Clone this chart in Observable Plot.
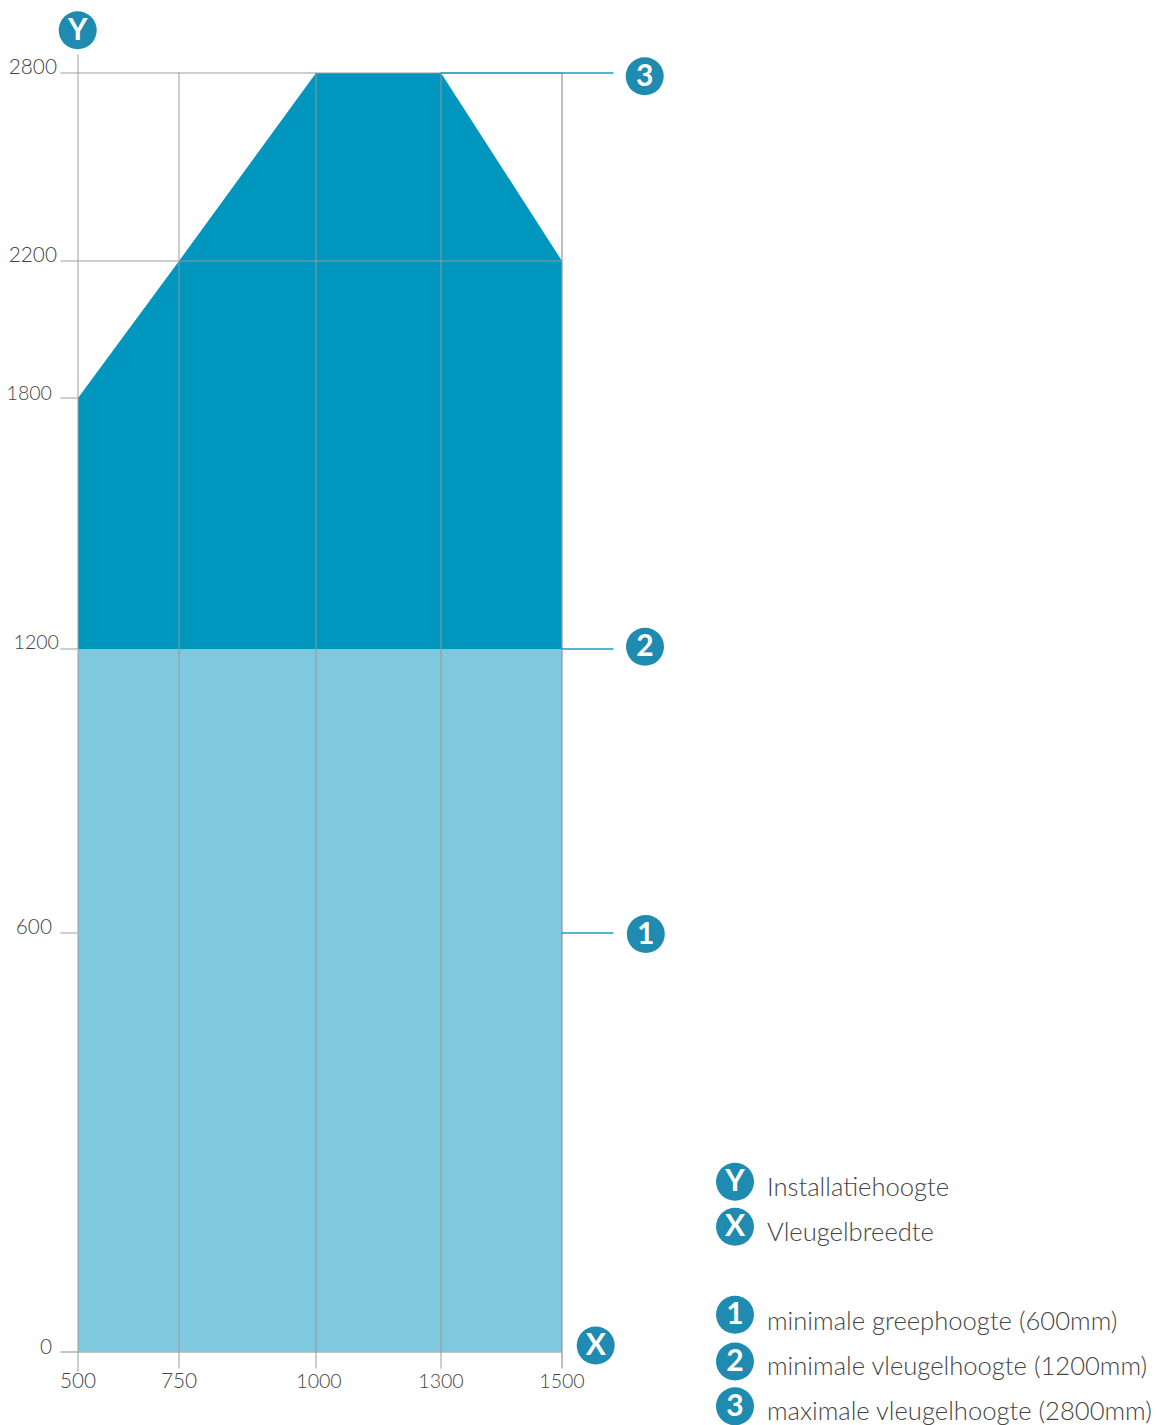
<!DOCTYPE html>
<html lang="nl">
<head>
<meta charset="utf-8">
<title>Installatiehoogte en vleugelbreedte</title>
<script src="https://cdn.jsdelivr.net/npm/d3@7"></script>
<script src="https://cdn.jsdelivr.net/npm/@observablehq/plot@0.6"></script>
<style>
  html, body { margin: 0; padding: 0; background: #fff; }
  svg { display: block; }
</style>
</head>
<body>
<div id="chart"></div>
<script>
// ---- data ----
const widthTicks = [500, 750, 1000, 1300, 1500];
const heightTicks = [0, 600, 1200, 1800, 2200, 2800];
const envelopeWidths = [500, 750, 1000, 1300, 1500];
const envelopeHeights = [1800, 2200, 2800, 2800, 2200];
const wingBaseHeight = 1200;
const gripBandWidths = [500, 1500];
const gridHeights = [2200, 2800];
const calloutHeights = [600, 1200, 2800];
const calloutLabels = ["1", "2", "3"];
const legendKeys = ["Y", "X", "1", "2", "3"];
const legendTexts = [
  "Installatiehoogte",
  "Vleugelbreedte",
  "minimale greephoogte (600mm)",
  "minimale vleugelhoogte (1200mm)",
  "maximale vleugelhoogte (2800mm)"
];

// ---- styling ----
const font = "Lato, 'Open Sans', sans-serif";
const dark = "#0096bd", light = "#7fc9de", badge = "#1f8bb0", teal = "#1a9cc4";
const gray = "#999999", ink = "#444444";
const ruleShift = {dx: -0.5, dy: -0.5};

const envelope = envelopeWidths.map((x, i) => ({x, y: envelopeHeights[i]}));
const band = gripBandWidths.map(x => ({x}));

const yLabelOffset = {0: [-26.5, -5.5], 600: [-26.5, -6.5], 1200: [-19.5, -6.5], 1800: [-26.5, -4.5], 2200: [-21.5, -6.5], 2800: [-21.5, -6.5]};
const xLabelOffset = {1000: 3};
const calloutBadgeOffset = {600: [83.3, 0.5], 1200: [82.5, -2.8], 2800: [82.2, 2.8]};
const legendBadgeTop = [1181.3, 1226.2, 1314.2, 1361, 1405.8];
const legendTextTop = [1187, 1232, 1321, 1366, 1411];
const tickFontSize = t => String(t)[0] === "1" ? 19.6 : 20.8;

const badgeMarks = (data, opts) => [
  Plot.dot(data, {...opts, r: 19, fill: badge, stroke: "none"}),
  Plot.text(data, {...opts, text: d => d, fill: "#fff", fontSize: 30, fontWeight: 700, fontFamily: font, textAnchor: "middle", lineAnchor: "middle"})
];

const chart = Plot.plot({
  width: 1157,
  height: 1425,
  margin: 0,
  style: {background: "#fff", overflow: "visible"},
  x: {type: "linear", domain: widthTicks, range: [78, 179, 316, 441, 562], axis: null},
  y: {type: "linear", domain: heightTicks, range: [1352, 933, 649, 398, 261, 73], axis: null},
  marks: [
    // baseline under the fill
    Plot.ruleY([0], {...ruleShift, x1: 500, x2: 1500, insetLeft: -17, stroke: "#c4c4c4", strokeWidth: 2}),
    // filled regions
    Plot.area(band, {x1: "x", y1: () => 0, y2: () => wingBaseHeight, fill: light}),
    Plot.area(envelope, {x1: "x", y1: () => wingBaseHeight, y2: "y", fill: dark}),
    // horizontal grid + stubs
    Plot.ruleY(gridHeights, {...ruleShift, x1: 500, x2: 1500, insetLeft: -17, stroke: gray, strokeOpacity: 0.65, strokeWidth: 1.4}),
    Plot.ruleY([600, 1200, 1800], {...ruleShift, x1: 500, x2: 500, insetLeft: -17, stroke: gray, strokeOpacity: 0.8, strokeWidth: 1.2}),
    // vertical grid
    Plot.ruleX([750, 1000, 1300], {...ruleShift, y1: 2800, y2: 0, insetBottom: -17, stroke: gray, strokeOpacity: 0.7, strokeWidth: 1.4}),
    Plot.ruleX([1500], {...ruleShift, y1: 2800, y2: 0, insetBottom: -17, stroke: gray, strokeWidth: 1.3}),
    Plot.ruleX([500], {...ruleShift, y1: 2800, y2: 0, insetTop: -18, insetBottom: -20, stroke: gray, strokeOpacity: 0.65, strokeWidth: 1.5}),
    // callout lines
    Plot.ruleY([2800], {...ruleShift, x1: 1300, x2: 1500, insetRight: -52, stroke: teal, strokeWidth: 1.4}),
    Plot.ruleY([600, 1200], {...ruleShift, x1: 1500, x2: 1500, insetRight: -52, stroke: teal, strokeWidth: 1.4}),
    // y tick labels
    ...heightTicks.map(t => Plot.text([t], {
      x: () => 500, y: d => d, text: d => String(d),
      dx: yLabelOffset[t][0], dy: yLabelOffset[t][1], textAnchor: "end",
      fontSize: tickFontSize(t), fontWeight: 300, fontFamily: font, fill: ink
    })),
    // x tick labels
    ...widthTicks.map(t => Plot.text([t], {
      x: d => d, y: () => 0, text: d => String(d),
      dx: (xLabelOffset[t] ?? 0) - 0.5, dy: 29, textAnchor: "middle",
      fontSize: tickFontSize(t), fontWeight: 300, fontFamily: font, fill: ink
    })),
    // axis badges
    ...badgeMarks(["Y"], {x: () => 500, y: () => 2800, dx: -0.8, dy: -43.3}),
    ...badgeMarks(["X"], {x: () => 1500, y: () => 0, dx: 33.2, dy: -7}),
    // callout badges
    ...calloutHeights.flatMap((h, i) => badgeMarks([calloutLabels[i]], {
      x: () => 1500, y: () => h, dx: calloutBadgeOffset[h][0], dy: calloutBadgeOffset[h][1]
    })),
    // legend
    ...legendKeys.flatMap((k, i) => [
      ...badgeMarks([k], {frameAnchor: "top-left", dx: 734.5, dy: legendBadgeTop[i]}),
      Plot.text([legendTexts[i]], {
        frameAnchor: "top-left", dx: 766.5, dy: legendTextTop[i],
        text: d => d, textAnchor: "start", lineAnchor: "middle",
        fontSize: 25.6, fontWeight: 300, fontFamily: font, fill: ink
      })
    ])
  ]
});
document.getElementById("chart").appendChild(chart);
</script>
</body>
</html>
